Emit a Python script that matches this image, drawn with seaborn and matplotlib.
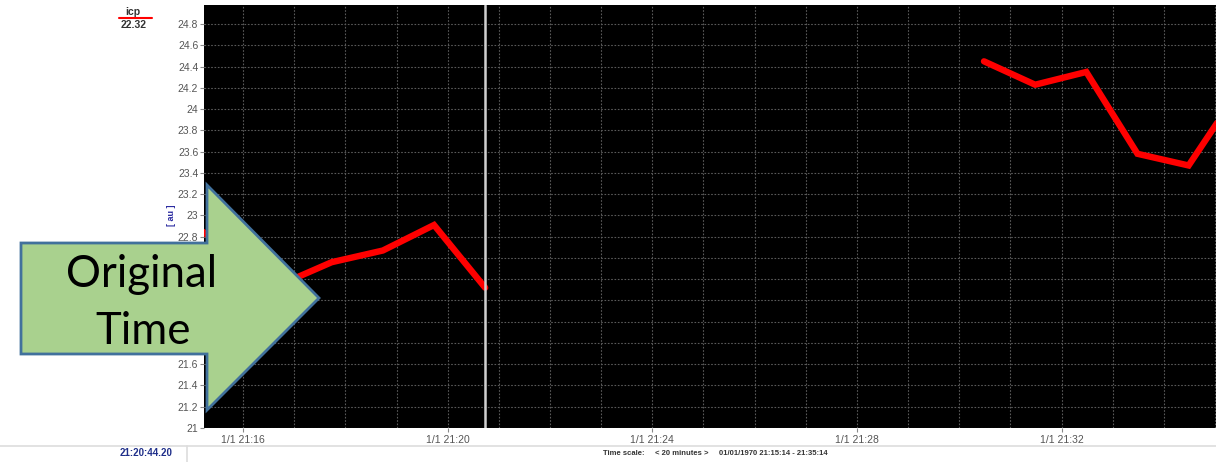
import matplotlib
matplotlib.use("Agg")
import matplotlib.pyplot as plt
import matplotlib.dates as mdates
from matplotlib.patches import Polygon
from matplotlib.lines import Line2D
import numpy as np
import pandas as pd
import seaborn as sns

# ---------------- data ----------------
day = "1970-01-01 "
seg1_times = ["21:14:44", "21:15:44", "21:16:44", "21:17:44", "21:18:44", "21:19:44", "21:20:44"]
seg1_values = [23.00, 22.68, 22.35, 22.56, 22.67, 22.91, 22.32]
seg2_times = ["21:30:29", "21:31:29", "21:32:29", "21:33:29", "21:34:29", "21:35:29"]
seg2_values = [24.45, 24.23, 24.35, 23.58, 23.47, 24.19]

x_start, x_end = "21:15:14", "21:35:14"
cursor_time = "21:20:44.2"
x_tick_times = ["21:16", "21:20", "21:24", "21:28", "21:32"]
x_tick_labels = ["1/1 21:16", "1/1 21:20", "1/1 21:24", "1/1 21:28", "1/1 21:32"]
y_ticks = [round(21 + 0.2 * i, 1) for i in range(20)]
y_tick_labels = ["%g" % v for v in y_ticks]
series_name = "icp"
current_value = "22.32"
cursor_label = "21:20:44.20"
status_parts = ["Time scale:", "< 20 minutes >", "01/01/1970 21:15:14 - 21:35:14"]
arrow_lines = ["Original", "Time"]

df1 = pd.DataFrame({"t": pd.to_datetime([day + t for t in seg1_times]), "v": seg1_values})
df2 = pd.DataFrame({"t": pd.to_datetime([day + t for t in seg2_times]), "v": seg2_values})

# ---------------- figure ----------------
sns.set_style("white")
plt.rcParams["font.family"] = ["Liberation Sans", "DejaVu Sans"]

W, H = 1216, 462
fig = plt.figure(figsize=(W / 100, H / 100), dpi=100)
fig.patch.set_facecolor("white")

def fx(px):
    return px / W

def fy(py):
    return 1 - py / H

ax_left, ax_right, ax_top, ax_bot = 203.8, 1227.0, 5.0, 428.0
ax = fig.add_axes([fx(ax_left), fy(ax_bot), (ax_right - ax_left) / W, (ax_bot - ax_top) / H])
ax.set_facecolor("black")

sns.lineplot(data=df1, x="t", y="v", ax=ax, color="#ff0000", linewidth=4.6, solid_joinstyle="miter")
sns.lineplot(data=df2, x="t", y="v", ax=ax, color="#ff0000", linewidth=4.6, solid_joinstyle="miter")

ax.axvline(pd.Timestamp(day + cursor_time), color="#d0d0d0", linewidth=1.8, zorder=3)

ax.set_xlim(pd.Timestamp(day + x_start), pd.Timestamp(day + x_end))
ax.set_ylim(21, 24.98)

# x: labelled major ticks every 4 minutes, grid every minute
ax.set_xticks([mdates.date2num(pd.Timestamp(day + t)) for t in x_tick_times])
ax.set_xticklabels(x_tick_labels)
ax.xaxis.set_minor_locator(mdates.MinuteLocator(interval=1))
ax.grid(True, which="both", axis="x", color="#5a5a5a", linestyle=(0, (1.5, 1.5)), linewidth=0.8)
ax.set_yticks(y_ticks)
ax.set_yticklabels(y_tick_labels)
ax.grid(True, which="major", axis="y", color="#5a5a5a", linestyle=(0, (1.5, 1.5)), linewidth=0.8)
ax.set_axisbelow(True)

ax.tick_params(axis="x", which="minor", length=0, bottom=False)
ax.tick_params(axis="x", which="major", length=3, color="#888888", labelsize=7.5,
               labelcolor="#555555", pad=2, bottom=True)
ax.tick_params(axis="y", which="major", length=3, color="#888888", labelsize=7.5,
               labelcolor="#555555", pad=1, left=True)

for s in ax.spines.values():
    s.set_visible(False)

ax.set_xlabel("")
ax.set_ylabel("[ au ]", color="#2a2aa0", fontsize=6.5, fontweight="bold")
ax.yaxis.set_label_coords((176 - ax_left) / (ax_right - ax_left), (ax_bot - 215) / (ax_bot - ax_top))

# ---------------- legend / header ----------------
fig.text(fx(133), fy(12), series_name, ha="center", va="center", fontsize=7.5,
         fontweight="bold", color="#333333")
fig.add_artist(Line2D([fx(119), fx(152)], [fy(18), fy(18)], color="#ff0000", linewidth=1.5))
fig.text(fx(134), fy(24.5), current_value, ha="center", va="center", fontsize=7.5,
         fontweight="bold", color="#333333")

# ---------------- status bar ----------------
fig.add_artist(Line2D([0, 1], [fy(446), fy(446)], color="#dddddd", linewidth=1.2))
fig.add_artist(Line2D([fx(187), fx(187)], [fy(446), 0], color="#dddddd", linewidth=1.2))
fig.text(fx(120), fy(453.5), cursor_label, ha="left", va="center", fontsize=7,
         fontweight="bold", color="#1f2f8a")
for xpos, txt in zip([603, 655, 719], status_parts):
    fig.text(fx(xpos), fy(453.5), txt, ha="left", va="center", fontsize=5.5,
             fontweight="bold", color="#333333")

# ---------------- overlay arrow ----------------
arrow_px = [(21, 243), (207, 243), (207, 185), (319, 298), (207, 410), (207, 354), (21, 354)]
arrow = Polygon([(fx(x), fy(y)) for x, y in arrow_px], closed=True, transform=fig.transFigure,
                facecolor="#a9d18e", edgecolor="#41719c", linewidth=2, zorder=10)
fig.add_artist(arrow)
for (cx, base), txt in zip([(142, 287), (143, 344)], arrow_lines):
    fig.text(fx(cx), fy(base), txt, ha="center", va="baseline", fontsize=31.5,
             family=["Lato", "DejaVu Sans"], color="black", zorder=11)

fig.savefig("out.png", dpi=100, facecolor="white")
